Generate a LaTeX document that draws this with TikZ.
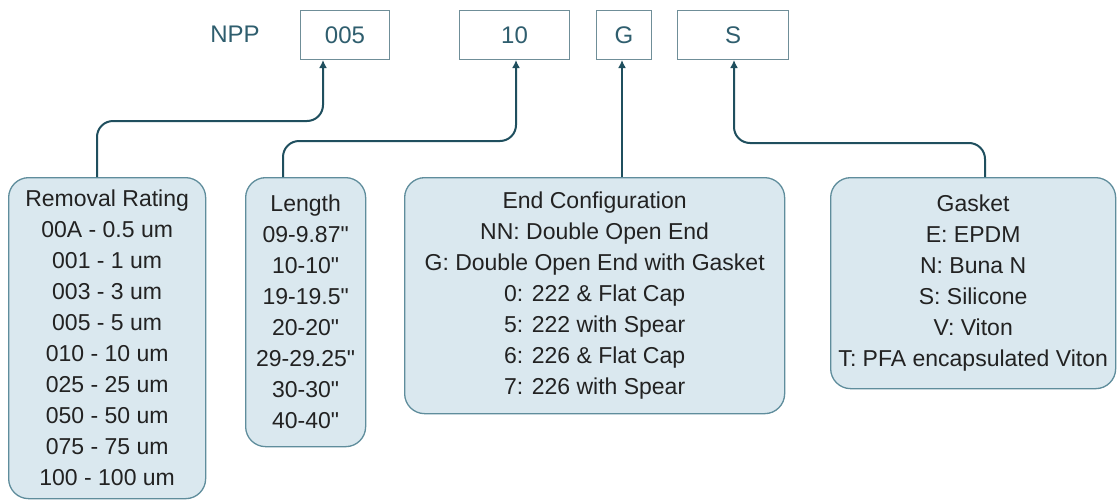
\documentclass[tikz,border=0pt]{standalone}
\usepackage{fontspec}
\setmainfont[Ligatures=TeXOff]{Liberation Sans}
\usetikzlibrary{arrows.meta}
\definecolor{arrowc}{HTML}{1F4F5E}
\definecolor{panelfill}{HTML}{DAE8EF}
\definecolor{paneldraw}{HTML}{5F8D9C}
\definecolor{codedraw}{HTML}{6F8E98}
\definecolor{codetext}{HTML}{2F5E6E}
\definecolor{bodytext}{HTML}{222222}
\newcommand{\inch}{\symbol{34}}
\begin{document}
\begin{tikzpicture}[x=1pt,y=-1pt,
  codelabel/.style={text=codetext, font=\fontsize{24}{28}\selectfont, inner sep=0pt},
  codebox/.style={draw=codedraw, line width=1pt, text=codetext, font=\fontsize{24}{28}\selectfont, anchor=north west, inner sep=0pt},
  panel/.style={draw=paneldraw, fill=panelfill, line width=1.3pt, rounded corners=20pt, text=bodytext, align=center, font=\fontsize{23}{31}\selectfont, anchor=north west, inner sep=0pt},
  link/.style={draw=arrowc, line width=2pt, rounded corners=16pt, -{Latex[length=8pt,width=8pt]}}
]
\useasboundingbox (0,0) rectangle (1118,501);
\fill[white] (0,0) rectangle (1118,501);

\node[codelabel] (npp) at (235,34) {NPP};
\node[codebox, minimum width=89pt, minimum height=49pt] (c005) at (300,10) {005};
\node[codebox, minimum width=110pt, minimum height=49pt] (c10) at (459,10) {10};
\node[codebox, minimum width=55pt, minimum height=49pt] (cG) at (596,10) {G};
\node[codebox, minimum width=111pt, minimum height=49pt] (cS) at (677,10) {S};

\node[panel, minimum width=197pt, minimum height=321pt] (rem) at (8,177)
  {Removal Rating\\00A - 0.5 um\\001 - 1 um\\003 - 3 um\\005 - 5 um\\010 - 10 um\\025 - 25 um\\050 - 50 um\\075 - 75 um\\100 - 100 um};
\node[panel, minimum width=120pt, minimum height=269pt] (len) at (245,177)
  {Length\\09-9.87\inch\\10-10\inch\\19-19.5\inch\\20-20\inch\\29-29.25\inch\\30-30\inch\\40-40\inch};
\node[panel, minimum width=380pt, minimum height=236pt] (endc) at (404,177)
  {End Configuration\\NN: Double Open End\\G: Double Open End with Gasket\\0: 222 \& Flat Cap\\5: 222 with Spear\\6: 226 \& Flat Cap\\7: 226 with Spear};
\node[panel, minimum width=285pt, minimum height=211pt] (gask) at (830,177)
  {Gasket\\E: EPDM\\N: Buna N\\S: Silicone\\V: Viton\\T: PFA encapsulated Viton};

\draw[link] ([xshift=89pt]rem.north west) -- ++(0,-56) -| ([xshift=23pt]c005.south west);
\draw[link] ([xshift=38pt]len.north west) -- ++(0,-36) -| ([xshift=57pt]c10.south west);
\draw[link] ([xshift=218pt]endc.north west) -- ([xshift=26pt]cG.south west);
\draw[link] ([xshift=155pt]gask.north west) -- ++(0,-34) -| ([xshift=57pt]cS.south west);
\end{tikzpicture}
\end{document}
